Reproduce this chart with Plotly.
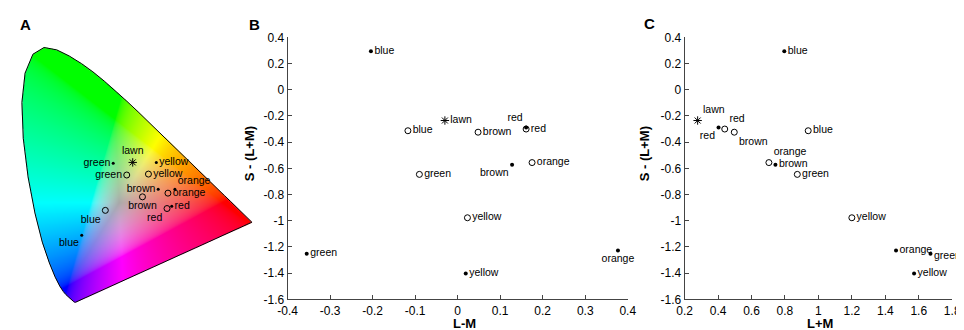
import base64
import struct
import zlib

import numpy as np
import plotly.graph_objects as go

# ---------------- data ----------------
colour_names = ["blue", "green", "yellow", "brown", "orange", "red"]

# Panel A: CIE 1931 xy chromaticities
cie_x_filled = [0.194, 0.294, 0.431, 0.437, 0.490, 0.480]
cie_y_filled = [0.223, 0.457, 0.460, 0.373, 0.373, 0.317]
cie_x_open = [0.269, 0.337, 0.406, 0.387, 0.468, 0.465]
cie_y_open = [0.304, 0.419, 0.422, 0.348, 0.360, 0.310]
cie_lawn = [0.356, 0.460]

# Panels B and C: cone-opponent coordinates
lm_filled = [-0.204, -0.355, 0.019, 0.128, 0.377, 0.161]
lpm_filled = [0.796, 1.670, 1.572, 0.743, 1.464, 0.403]
s_filled = [0.293, -1.252, -1.403, -0.573, -1.227, -0.289]
lm_open = [-0.117, -0.090, 0.023, 0.048, 0.175, 0.161]
lpm_open = [0.939, 0.874, 1.200, 0.497, 0.704, 0.440]
s_open = [-0.313, -0.646, -0.977, -0.324, -0.556, -0.300]
lawn_lm, lawn_lpm, lawn_s = -0.030, 0.278, -0.235

lm_ticks = [-0.4, -0.3, -0.2, -0.1, 0, 0.1, 0.2, 0.3, 0.4]
lpm_ticks = [0.2, 0.4, 0.6, 0.8, 1, 1.2, 1.4, 1.6, 1.8]
s_ticks = [0.4, 0.2, 0, -0.2, -0.4, -0.6, -0.8, -1, -1.2, -1.4, -1.6]

# CIE 1931 2-degree spectral locus (380-700 nm)
locus_x = [0.1741, 0.1740, 0.1738, 0.1736, 0.1733, 0.1730, 0.1726, 0.1721, 0.1714, 0.1703,
           0.1689, 0.1669, 0.1644, 0.1611, 0.1566, 0.1510, 0.1440, 0.1355, 0.1241, 0.1096,
           0.0913, 0.0687, 0.0454, 0.0235, 0.0082, 0.0039, 0.0139, 0.0389, 0.0743, 0.1142,
           0.1547, 0.1929, 0.2296, 0.2658, 0.3016, 0.3373, 0.3731, 0.4087, 0.4441, 0.4788,
           0.5125, 0.5448, 0.5752, 0.6029, 0.6270, 0.6482, 0.6658, 0.6801, 0.6915, 0.7006,
           0.7079, 0.7140, 0.7190, 0.7230, 0.7260, 0.7283, 0.7300, 0.7311, 0.7320, 0.7334,
           0.7344, 0.7347]
locus_y = [0.0050, 0.0050, 0.0049, 0.0049, 0.0048, 0.0048, 0.0048, 0.0048, 0.0051, 0.0058,
           0.0069, 0.0086, 0.0109, 0.0138, 0.0177, 0.0227, 0.0297, 0.0399, 0.0578, 0.0868,
           0.1327, 0.2007, 0.2950, 0.4127, 0.5384, 0.6548, 0.7502, 0.8120, 0.8338, 0.8262,
           0.8059, 0.7816, 0.7543, 0.7243, 0.6923, 0.6589, 0.6245, 0.5896, 0.5547, 0.5202,
           0.4866, 0.4544, 0.4242, 0.3965, 0.3725, 0.3514, 0.3340, 0.3197, 0.3083, 0.2993,
           0.2920, 0.2859, 0.2809, 0.2770, 0.2740, 0.2717, 0.2700, 0.2689, 0.2680, 0.2666,
           0.2656, 0.2653]

# ---------------- chromaticity background image ----------------
W, H = 964, 330
PPU = 321.0  # pixels per chromaticity unit in panel A
ax_x0 = 0.0039 - 4 / PPU
ax_x1 = ax_x0 + 250 / PPU
ax_y0 = 0.005 - 30 / PPU
ax_y1 = ax_y0 + 330 / PPU

SS = 2  # supersampling of the background picture
step = 1 / (PPU * SS)
img_x0, img_x1 = 0.0, 0.745
img_y0, img_y1 = 0.0, 0.84
nx = int(round((img_x1 - img_x0) / step))
ny = int(round((img_y1 - img_y0) / step))
gx = img_x0 + (np.arange(nx) + 0.5) * step
gy = img_y1 - (np.arange(ny) + 0.5) * step  # top row first
PX, PY = np.meshgrid(gx, gy)
poly_x = np.array(locus_x + [locus_x[0]])
poly_y = np.array(locus_y + [locus_y[0]])
inside = np.zeros(PX.shape, dtype=bool)
for i in range(len(poly_x) - 1):
    x1, y1, x2, y2 = poly_x[i], poly_y[i], poly_x[i + 1], poly_y[i + 1]
    if y1 == y2:
        continue
    cond = ((y1 > PY) != (y2 > PY)) & (PX < (x2 - x1) * (PY - y1) / (y2 - y1) + x1)
    inside ^= cond

yy = np.maximum(PY, 1e-4)
Xc = PX / yy
Zc = (1 - PX - PY) / yy
Yc = np.ones_like(PX)
M = np.array([[3.2406, -1.5372, -0.4986], [-0.9689, 1.8758, 0.0415], [0.0557, -0.2040, 1.0570]])
rgb = np.stack([M[0, 0] * Xc + M[0, 1] * Yc + M[0, 2] * Zc,
                M[1, 0] * Xc + M[1, 1] * Yc + M[1, 2] * Zc,
                M[2, 0] * Xc + M[2, 1] * Yc + M[2, 2] * Zc], axis=-1)
rgb = np.clip(rgb, 0, None)
mx = rgb.max(axis=-1, keepdims=True)
mx[mx == 0] = 1
rgb = rgb / mx
sat = 1 - rgb.min(axis=-1, keepdims=True)
rgb = np.where(rgb <= 0.0031308, 12.92 * rgb, 1.055 * np.power(rgb, 1 / 2.4) - 0.055)
rgb = rgb * (0.66 + 0.34 * sat)
rgba = np.zeros(PX.shape + (4,), dtype=np.uint8)
rgba[..., :3] = np.clip(rgb * 255, 0, 255).astype(np.uint8)
rgba[..., 3] = np.where(inside, 255, 0).astype(np.uint8)


def png_data_uri(arr):
    h, w, _ = arr.shape
    raw = b"".join(b"\x00" + arr[r].tobytes() for r in range(h))

    def chunk(tag, data):
        c = struct.pack(">I", len(data)) + tag + data
        return c + struct.pack(">I", zlib.crc32(tag + data) & 0xFFFFFFFF)

    png = (b"\x89PNG\r\n\x1a\n"
           + chunk(b"IHDR", struct.pack(">IIBBBBB", w, h, 8, 6, 0, 0, 0))
           + chunk(b"IDAT", zlib.compress(raw, 9))
           + chunk(b"IEND", b""))
    return "data:image/png;base64," + base64.b64encode(png).decode()


# ---------------- figure ----------------
FONT = "Liberation Sans"
fig = go.Figure()

fig.add_trace(go.Scatter(x=locus_x + [locus_x[0]], y=locus_y + [locus_y[0]], mode="lines",
                         line=dict(color="black", width=1), xaxis="x", yaxis="y",
                         hoverinfo="skip"))

lab_font = dict(family=FONT, size=10.5, color="black")
filled_marker = dict(symbol="circle", size=4, color="black")
filled_marker_a = dict(symbol="circle", size=3, color="black")
open_marker = dict(symbol="circle-open", size=6, color="black", line=dict(width=1))
star_marker = dict(symbol="asterisk-open", size=7, color="black", line=dict(width=1, color="black"))

pos = {
    "A_filled": ["bottom left", "middle left", "middle right", "middle left", "top right", "middle right"],
    "A_open": ["bottom left", "middle left", "middle right", "bottom center", "middle right", "bottom left"],
    "B_filled": ["middle right", "middle right", "middle right", "bottom left", "bottom center", "top left"],
    "B_open": ["middle right"] * 6,
    "C_filled": ["middle right"] * 5 + ["bottom left"],
    "C_open": ["middle right", "middle right", "middle right", "bottom right", "top right", "top right"],
}


def add_points(xs, ys, marker, positions, xa, ya, texts=None):
    fig.add_trace(go.Scatter(x=xs, y=ys, mode="markers+text",
                             text=texts if texts is not None else colour_names,
                             textposition=positions, textfont=lab_font, marker=marker,
                             xaxis=xa, yaxis=ya, cliponaxis=False, hoverinfo="skip"))


# Panel A
add_points(cie_x_filled, cie_y_filled, filled_marker_a, pos["A_filled"], "x", "y")
add_points(cie_x_open, cie_y_open, open_marker, pos["A_open"], "x", "y")
fig.add_trace(go.Scatter(x=[cie_lawn[0]], y=[cie_lawn[1]], mode="markers+text", text=["lawn"],
                         textposition="top center", textfont=lab_font, marker=star_marker,
                         xaxis="x", yaxis="y", hoverinfo="skip"))
# Panel B
add_points(lm_filled, s_filled, filled_marker, pos["B_filled"], "x2", "y2")
add_points(lm_open, s_open, open_marker, pos["B_open"], "x2", "y2")
fig.add_trace(go.Scatter(x=[lawn_lm], y=[lawn_s], mode="markers+text", text=["lawn"],
                         textposition="middle right", textfont=lab_font, marker=star_marker,
                         xaxis="x2", yaxis="y2", cliponaxis=False, hoverinfo="skip"))
# Panel C (the right-most "green" label is placed as an annotation so it stays in view)
c_filled_texts = [t if t != "green" else "" for t in colour_names]
add_points(lpm_filled, s_filled, filled_marker, pos["C_filled"], "x3", "y3", c_filled_texts)
add_points(lpm_open, s_open, open_marker, pos["C_open"], "x3", "y3")
fig.add_trace(go.Scatter(x=[lawn_lpm], y=[lawn_s], mode="markers+text", text=["lawn"],
                         textposition="top right", textfont=lab_font, marker=star_marker,
                         xaxis="x3", yaxis="y3", cliponaxis=False, hoverinfo="skip"))

tick_font = dict(family=FONT, size=12, color="black")
axis_common = dict(showgrid=False, zeroline=False, showline=True, linecolor="#444", linewidth=1,
                   ticks="inside", ticklen=4, tickcolor="#444", tickfont=tick_font)


def ytop(px):
    return 1 - px / H


fig.update_layout(
    width=W, height=H, margin=dict(l=0, r=0, t=0, b=0),
    paper_bgcolor="white", plot_bgcolor="rgba(0,0,0,0)", showlegend=False,
    xaxis=dict(domain=[0, 250 / W], range=[ax_x0, ax_x1], visible=False, fixedrange=True),
    yaxis=dict(domain=[0, 1], range=[ax_y0, ax_y1], visible=False, fixedrange=True),
    xaxis2=dict(domain=[275 / W, 622 / W], range=[-0.4, 0.4], tickvals=lm_ticks,
                ticktext=[f"{v:g}" for v in lm_ticks], anchor="y2", **axis_common),
    yaxis2=dict(domain=[ytop(297), ytop(23.3)], range=[-1.6, 0.4], tickvals=s_ticks,
                ticktext=[f"{v:g}" for v in s_ticks], anchor="x2", **axis_common),
    xaxis3=dict(domain=[680 / W, 953 / W], range=[0.2, 1.8], tickvals=lpm_ticks,
                ticktext=[f"{v:g}" for v in lpm_ticks], anchor="y3", **axis_common),
    yaxis3=dict(domain=[ytop(297), ytop(23.3)], range=[-1.6, 0.4], tickvals=s_ticks,
                ticktext=[f"{v:g}" for v in s_ticks], anchor="x3", **axis_common),
    images=[dict(source=png_data_uri(rgba), xref="x", yref="y", x=img_x0, y=img_y1,
                 sizex=img_x1 - img_x0, sizey=img_y1 - img_y0, sizing="stretch",
                 xanchor="left", yanchor="top", layer="below")],
)

title_font = dict(family=FONT, size=13, color="black")
letter_font = dict(family=FONT, size=15, color="black")
anns = [
    dict(text="<b>A</b>", x=8 / W, y=ytop(10), font=letter_font),
    dict(text="<b>B</b>", x=241 / W, y=ytop(10), font=letter_font),
    dict(text="<b>C</b>", x=644 / W, y=ytop(9), font=letter_font),
    dict(text="<b>S - (L+M)</b>", x=237 / W, y=ytop(145), font=title_font, textangle=-90),
    dict(text="<b>S - (L+M)</b>", x=639 / W, y=ytop(145), font=title_font, textangle=-90),
]
for a in anns:
    a.update(xref="paper", yref="paper", showarrow=False, xanchor="center", yanchor="middle")
for txt, xc in (("<b>L-M</b>", 455), ("<b>L+M</b>", 818)):
    anns.append(dict(text=txt, x=xc / W, y=0, xref="paper", yref="paper", showarrow=False,
                     xanchor="center", yanchor="bottom", borderpad=0, yshift=-1,
                     font=title_font))
anns.append(dict(text="green", x=lpm_filled[1], y=s_filled[1], xref="x3", yref="y3",
                 showarrow=False, xanchor="left", yanchor="middle", xshift=2, yshift=-1,
                 font=lab_font))
fig.update_layout(annotations=anns)

fig.write_html("out.html")
